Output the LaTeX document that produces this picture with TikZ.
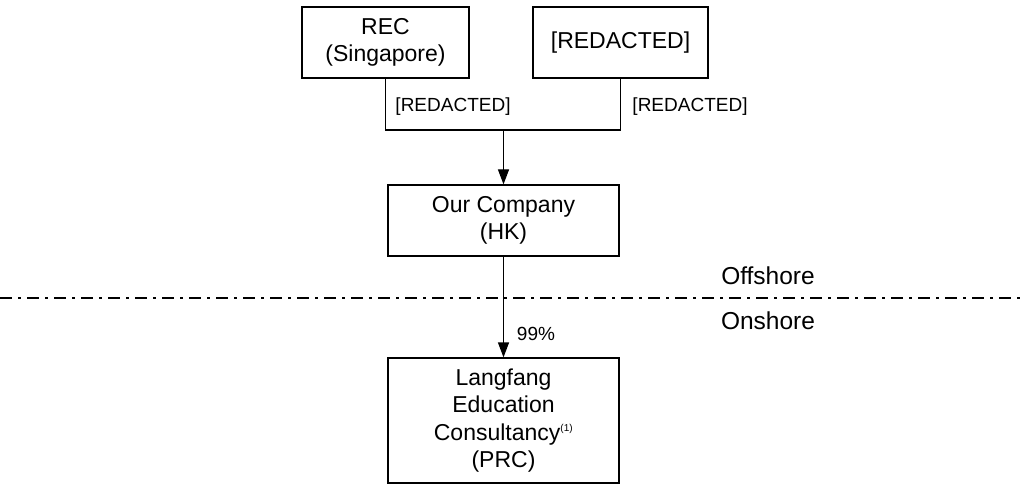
\documentclass[tikz,border=0pt]{standalone}
\usepackage{fontspec}
\setmainfont{Liberation Sans}
\usetikzlibrary{arrows.meta}
\begin{document}
\begin{tikzpicture}[x=1pt,y=-1pt,
  box/.style={draw,line width=1.2pt,inner sep=0pt,align=center,font=\fontsize{23}{27.5}\selectfont},
  lbl/.style={inner sep=0pt,font=\fontsize{19}{22}\selectfont},
  zone/.style={inner sep=0pt,font=\fontsize{24.5}{28}\selectfont},
  conn/.style={line width=1.2pt},
  arr/.style={line width=1.2pt,-{Triangle[width=11pt,length=15pt]}}
]
\useasboundingbox (0,0) rectangle (1023,484);
\node[box,minimum width=167pt,minimum height=71pt] (rec) at (385.5,42.5) {REC\\(Singapore)};
\node[box,minimum width=175pt,minimum height=71pt] (red) at (620.5,42.5) {[REDACTED]};
\node[box,minimum width=231pt,minimum height=71pt] (hk) at (503.5,220.5) {Our Company\\(HK)};
\node[box,minimum width=231pt,minimum height=125pt] (lf) at (503.5,420.5) {Langfang\\Education\\Consultancy\textsuperscript{\fontsize{10}{10}\selectfont(1)}\\(PRC)};
\coordinate (j) at (503.5,130);
\draw[conn] (rec.south) |- (j) -| (red.south);
\draw[arr] (j) -- (hk.north);
\draw[arr] (hk.south) -- (lf.north);
\node[lbl] (l1) at (453,107) {[REDACTED]};
\node[lbl] (l2) at (690,107) {[REDACTED]};
\node[lbl] (p99) at (536,334) {99\%};
\coordinate (dl) at (0,298);
\coordinate (dr) at (1023,298);
\draw[line width=1.1pt,dash pattern=on 12pt off 6pt on 3pt off 6pt] (dl) -- (dr);
\node[zone] (off) at (768,276) {Offshore};
\node[zone] (on) at (768,321) {Onshore};
\end{tikzpicture}
\end{document}
